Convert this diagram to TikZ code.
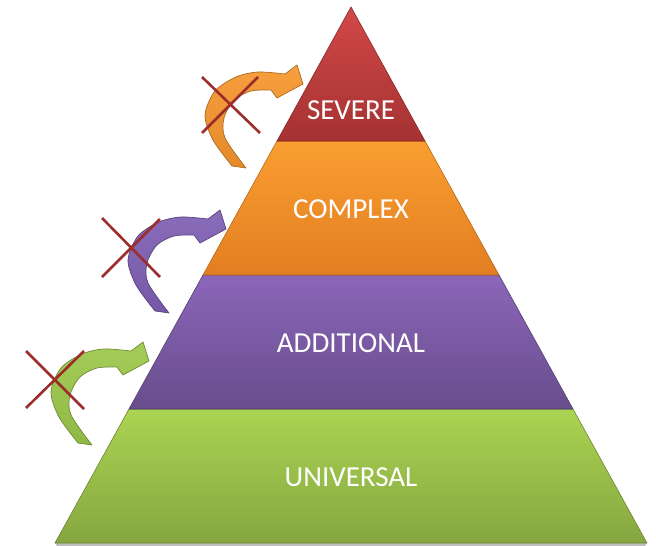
\documentclass[tikz,border=0pt]{standalone}
\usepackage{fontspec}
\setmainfont{Carlito}
\definecolor{redT}{HTML}{D24848}
\definecolor{redB}{HTML}{A53232}
\definecolor{oraT}{HTML}{FA9E30}
\definecolor{oraB}{HTML}{E27E22}
\definecolor{purT}{HTML}{8C66BA}
\definecolor{purB}{HTML}{684D8C}
\definecolor{grnT}{HTML}{AAD452}
\definecolor{grnB}{HTML}{86A640}
\definecolor{arrO}{HTML}{F7962E}
\definecolor{arrP}{HTML}{7F60B4}
\definecolor{arrG}{HTML}{9DC84A}
\definecolor{xred}{HTML}{9B2D2D}
\begin{document}
\begin{tikzpicture}[x=1pt,y=-1pt,
  layer/.style={line width=0.6pt, line join=round},
  lbl/.style={text=white, font=\fontsize{29}{34}\selectfont, inner sep=0pt},
  xmark/.style={draw=xred, line width=2.6pt},
  curvearrow/.style={line width=0.7pt, line join=round}]
\useasboundingbox (0,0) rectangle (656,546);

% soft shadow under the base
\fill[black!25] (55,543) -- (647,543) -- (645,546) -- (57,546) -- cycle;

% layers
\path[layer, draw=grnB!80!black, top color=grnT, bottom color=grnB]
  (129,409) -- (573,409) -- (647,543) -- (55,543) -- cycle;
\path[layer, draw=purB!80!black, top color=purT, bottom color=purB]
  (203,275) -- (499,275) -- (573,409) -- (129,409) -- cycle;
\path[layer, draw=oraB!80!black, top color=oraT, bottom color=oraB]
  (277,141) -- (425,141) -- (499,275) -- (203,275) -- cycle;
\path[layer, draw=redB!80!black, top color=redT, bottom color=redB]
  (351,7) -- (425,141) -- (277,141) -- cycle;

\node[lbl] (severe) at (351,110) {SEVERE};
\node[lbl] (complex) at (351,209) {COMPLEX};
\node[lbl] (additional) at (351,343) {ADDITIONAL};
\node[lbl] (universal) at (351,477) {UNIVERSAL};

% curved arrows
\foreach \dx/\dy/\col in {0/0/arrO, -77/145/arrP, -154/277/arrG}{
  \begin{scope}[shift={(\dx,\dy)}]
    \path[curvearrow, draw=\col!70!black, top color=\col!92!white, bottom color=\col!92!black]
      plot[smooth] coordinates {(232,166) (213,140) (205,115) (215,91) (236,77) (258,72) (285,74)}
      -- (297,65) -- (303,84) -- (277,98)
      -- plot[smooth] coordinates {(271,90) (251,91) (234,100) (224,118) (225,138) (246,168)}
      -- cycle;
  \end{scope}
}

% crosses
\draw[xmark] (202,77) -- (260,133);
\draw[xmark] (202,133) -- (258,77);
\draw[xmark] (102,218) -- (160,277);
\draw[xmark] (102,277) -- (160,219);
\draw[xmark] (26,351) -- (84,409);
\draw[xmark] (26,408) -- (84,351);
\end{tikzpicture}
\end{document}
